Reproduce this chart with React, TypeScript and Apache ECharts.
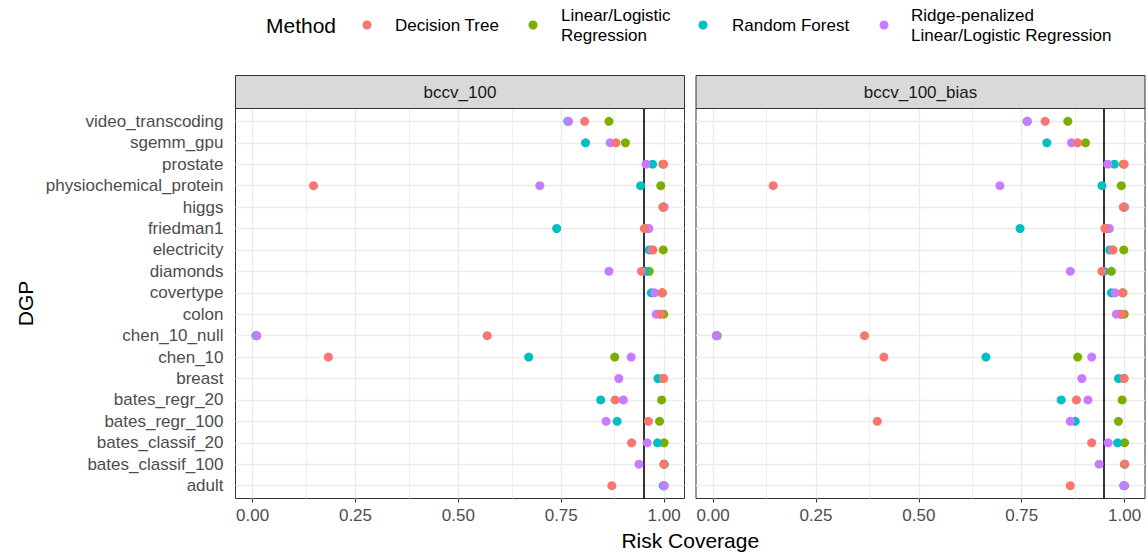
import React, { useEffect, useRef } from "react";
import * as echarts from "echarts";

const categories = [
  "video_transcoding", "sgemm_gpu", "prostate", "physiochemical_protein", "higgs",
  "friedman1", "electricity", "diamonds", "covertype", "colon", "chen_10_null",
  "chen_10", "breast", "bates_regr_20", "bates_regr_100", "bates_classif_20",
  "bates_classif_100", "adult",
];

const panels = ["bccv_100", "bccv_100_bias"];
const methods = ["Decision Tree", "Linear/Logistic Regression", "Random Forest", "Ridge-penalized Linear/Logistic Regression"];
const legendLabels = ["Decision Tree", "Linear/Logistic\nRegression", "Random Forest", "Ridge-penalized\nLinear/Logistic Regression"];
const methodColors = ["#F8766D", "#7CAE00", "#00BFC4", "#C77CFF"];

// bccv_100
const dt100 = [0.807, 0.883, 0.999, 0.148, 0.997, 0.952, 0.973, 0.945, 0.995, 0.992, 0.570, 0.184, 0.999, 0.881, 0.962, 0.921, 1.0, 0.873];
const lr100 = [0.866, 0.906, 0.997, 0.992, 0.999, 0.955, 0.998, 0.964, 0.996, 0.999, 0.010, 0.880, 0.998, 0.994, 0.989, 1.0, 1.0, 1.0];
const rf100 = [0.766, 0.809, 0.972, 0.943, 0.998, 0.739, 0.964, 0.955, 0.969, 0.990, 0.008, 0.671, 0.985, 0.846, 0.886, 0.984, 1.0, 0.998];
const rg100 = [0.768, 0.869, 0.956, 0.698, 1.0, 0.963, 0.970, 0.866, 0.977, 0.981, 0.0097, 0.920, 0.890, 0.901, 0.859, 0.959, 0.939, 1.0];

// bccv_100_bias
const dtBias = [0.807, 0.886, 0.999, 0.146, 0.997, 0.952, 0.972, 0.945, 0.995, 0.994, 0.368, 0.415, 0.999, 0.883, 0.399, 0.920, 1.0, 0.868];
const lrBias = [0.862, 0.905, 0.997, 0.992, 0.999, 0.955, 0.998, 0.968, 0.996, 0.999, 0.010, 0.886, 0.998, 0.994, 0.985, 1.0, 1.0, 1.0];
const rfBias = [0.763, 0.811, 0.975, 0.945, 0.998, 0.746, 0.964, 0.950, 0.968, 0.990, 0.008, 0.663, 0.985, 0.846, 0.880, 0.983, 1.0, 0.998];
const rgBias = [0.764, 0.871, 0.959, 0.697, 1.0, 0.963, 0.970, 0.868, 0.977, 0.980, 0.008, 0.920, 0.896, 0.911, 0.868, 0.960, 0.938, 0.999];

const panelData = [
  [dt100, lr100, rf100, rg100],
  [dtBias, lrBias, rfBias, rgBias],
];

const xTicks = [0, 0.25, 0.5, 0.75, 1];
const xMinor = [0.125, 0.375, 0.625, 0.875];
const threshold = 0.95;

const FONT = "Liberation Sans, Arial, Helvetica, sans-serif";

export default function App() {
  const ref = useRef<HTMLDivElement>(null);

  useEffect(() => {
    if (!ref.current) return;
    const chart = echarts.init(ref.current, null, { renderer: "svg" });

    const gridLeft = [235.5, 696];
    const gridTop = 108.5;
    const gridW = 449;
    const gridH = 390;
    const stripTop = 75.5;

    const grids = gridLeft.map((l) => ({
      left: l, top: gridTop, width: gridW, height: gridH,
      show: true, borderColor: "#333333", borderWidth: 1, backgroundColor: "#ffffff",
      containLabel: false,
    }));

    const xAxes = gridLeft.map((_, i) => ({
      type: "value", gridIndex: i, min: -0.0416, max: 1.0496,
      axisLine: { show: false },
      splitLine: { show: false },
      axisTick: { show: true, customValues: xTicks, length: 4, lineStyle: { color: "#333333", width: 1 } },
      axisLabel: {
        show: true, customValues: xTicks, margin: 8,
        formatter: (v: number) => v.toFixed(2),
        color: "#4d4d4d", fontSize: 17, fontFamily: FONT,
      },
    }));

    const yVals = categories.map((_, i) => i + 1);
    const yAxes = gridLeft.map((_, i) => ({
      type: "value", gridIndex: i, min: 0.4, max: categories.length + 0.6, inverse: true,
      axisLine: { show: false },
      splitLine: { show: false },
      axisTick: { show: i === 0, customValues: yVals, length: 4, lineStyle: { color: "#333333", width: 1 } },
      axisLabel: {
        show: i === 0, customValues: yVals, margin: 12,
        formatter: (v: number) => categories[Math.round(v) - 1] ?? "",
        color: "#4d4d4d", fontSize: 17, fontFamily: FONT,
      },
    }));

    const series: any[] = [];
    panels.forEach((_, p) => {
      // grid lines
      series.push({
        type: "scatter", xAxisIndex: p, yAxisIndex: p, data: [], silent: true, z: 1,
        markLine: {
          z: 1,
          silent: true, symbol: ["none", "none"], label: { show: false }, animation: false,
          data: [
            ...xMinor.map((v) => ({ xAxis: v, lineStyle: { color: "#ebebeb", width: 0.8, type: "solid" } })),
            ...xTicks.map((v) => ({ xAxis: v, lineStyle: { color: "#ebebeb", width: 1.4, type: "solid" } })),
            ...yVals.map((v) => ({ yAxis: v, lineStyle: { color: "#ebebeb", width: 1.4, type: "solid" } })),
          ],
        },
      });
      series.push({
        type: "scatter", xAxisIndex: p, yAxisIndex: p, data: [], silent: true, z: 2,
        markLine: {
          z: 2,
          silent: true, symbol: ["none", "none"], label: { show: false }, animation: false,
          data: [{ xAxis: threshold, lineStyle: { color: "#000000", width: 1.6, type: "solid" } }],
        },
      });
      [1, 2, 3, 0].forEach((m) => {
        series.push({
          type: "scatter", name: methods[m], xAxisIndex: p, yAxisIndex: p, z: 3,
          symbol: "circle", symbolSize: 9,
          itemStyle: { color: methodColors[m], opacity: 1 },
          data: panelData[p][m].map((v, i) => [v, i + 1]),
        });
      });
    });

    const graphics: any[] = [];
    panels.forEach((name, p) => {
      graphics.push({
        type: "rect", shape: { x: gridLeft[p], y: stripTop, width: gridW, height: gridTop - stripTop },
        style: { fill: "#d9d9d9", stroke: "#333333", lineWidth: 1 }, z: 10,
      });
      graphics.push({
        type: "text", x: gridLeft[p] + gridW / 2, y: (stripTop + gridTop) / 2, z: 11,
        style: {
          text: name, fill: "#1a1a1a", fontSize: 17, fontFamily: FONT,
          align: "center", verticalAlign: "middle", textAlign: "center", textVerticalAlign: "middle",
        },
      });
    });
    // axis titles
    graphics.push({
      type: "text", x: (gridLeft[0] + gridLeft[1] + gridW) / 2, y: 540, z: 11,
      style: {
        text: "Risk Coverage", fill: "#000000", fontSize: 21, fontFamily: FONT,
        align: "center", verticalAlign: "middle", textAlign: "center", textVerticalAlign: "middle",
      },
    });
    graphics.push({
      type: "text", x: 25, y: gridTop + gridH / 2, rotation: Math.PI / 2, z: 11,
      style: {
        text: "DGP", fill: "#000000", fontSize: 21, fontFamily: FONT,
        align: "center", verticalAlign: "middle", textAlign: "center", textVerticalAlign: "middle",
      },
    });
    // legend
    graphics.push({
      type: "text", x: 266, y: 25, z: 11,
      style: {
        text: "Method", fill: "#000000", fontSize: 21, fontFamily: FONT,
        align: "left", verticalAlign: "middle", textAlign: "left", textVerticalAlign: "middle",
      },
    });
    const dotX = [367, 533, 703, 884];
    const textX = [395, 561, 732, 911];
    legendLabels.forEach((lab, m) => {
      graphics.push({
        type: "circle", shape: { cx: dotX[m], cy: 25, r: 4.5 }, style: { fill: methodColors[m] }, z: 11,
      });
      graphics.push({
        type: "text", x: textX[m], y: 25, z: 11,
        style: {
          text: lab, fill: "#000000", fontSize: 17, fontFamily: FONT, lineHeight: 20,
          align: "left", verticalAlign: "middle", textAlign: "left", textVerticalAlign: "middle",
        },
      });
    });

    chart.setOption({
      animation: false,
      backgroundColor: "#ffffff",
      textStyle: { fontFamily: FONT },
      grid: grids,
      xAxis: xAxes,
      yAxis: yAxes,
      series,
      graphic: graphics,
    });

    return () => chart.dispose();
  }, []);

  return (
    <div
      ref={ref}
      style={{ position: "absolute", left: 0, top: 0, width: 1148, height: 554 }}
    />
  );
}
